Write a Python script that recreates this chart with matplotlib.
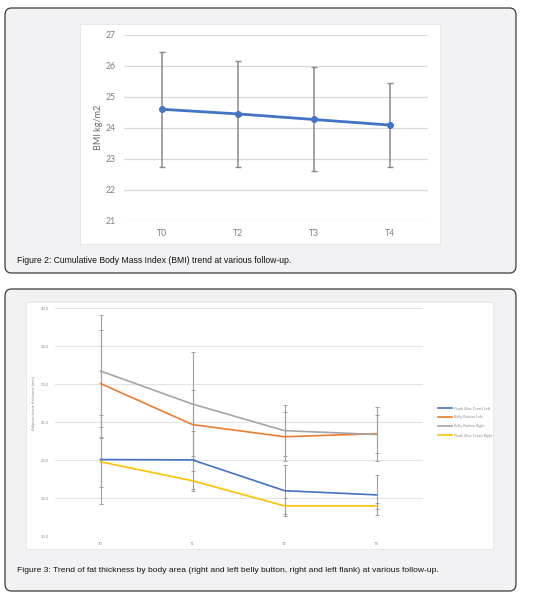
import matplotlib
matplotlib.use("Agg")
import matplotlib.pyplot as plt
from matplotlib.patches import FancyBboxPatch, Rectangle
from matplotlib.ticker import FuncFormatter, MultipleLocator

# ---------------- data ----------------
bmi_labels = ["T0", "T2", "T3", "T4"]
bmi_mean = [24.60, 24.45, 24.27, 24.09]
bmi_sd = [1.86, 1.70, 1.68, 1.37]

fat_labels = ["T0", "T1", "T2", "T4"]
series_names = ["Flank (Iliac Crest) Left", "Belly Button Left",
                "Belly Button Right", "Flank (Iliac Crest) Right"]
flank_left = [20.1, 20.05, 16.0, 15.45]
flank_left_sd = [5.8, 3.8, 3.35, 2.6]
belly_left = [30.1, 24.7, 23.1, 23.5]
belly_left_sd = [7.1, 4.5, 3.2, 2.5]
belly_right = [31.75, 27.4, 23.9, 23.4]
belly_right_sd = [7.4, 6.8, 3.35, 3.55]
flank_right = [19.8, 17.3, 14.0, 14.0]
flank_right_sd = [3.3, 1.35, 1.05, 0.35]

caption2 = "Figure 2: Cumulative Body Mass Index (BMI) trend at various follow-up."
caption3 = ("Figure 3: Trend of fat thickness by body area (right and left belly button, "
            "right and left flank) at various follow-up.")

W, H = 533, 596
fig = plt.figure(figsize=(W / 100, H / 100), dpi=100)
fig.patch.set_facecolor("white")

def fx(px):
    return px / W

def fy(py):
    return 1 - py / H

def panel(x0, y0, x1, y1):
    p = FancyBboxPatch((fx(x0), fy(y1)), fx(x1) - fx(x0), fy(y0) - fy(y1),
                       boxstyle="round,pad=0,rounding_size=0.012",
                       transform=fig.transFigure, facecolor="#f2f2f4",
                       edgecolor="#3a3a3a", linewidth=0.9, zorder=-2)
    fig.patches.append(p)

def white_area(x0, y0, x1, y1):
    r = Rectangle((fx(x0), fy(y1)), fx(x1) - fx(x0), fy(y0) - fy(y1),
                  transform=fig.transFigure, facecolor="white",
                  edgecolor="#e6e6e6", linewidth=0.6, zorder=-1)
    fig.patches.append(r)

panel(5, 8, 516, 273)
panel(5, 289, 516, 591)
white_area(80, 24, 440, 244)
white_area(26, 302, 493, 549)

chart_font = ["Lato", "DejaVu Sans"]
cap_font = ["Liberation Sans", "DejaVu Sans"]

# ---------------- Figure 2 ----------------
ax1 = fig.add_axes([fx(124), fy(220.7), fx(428) - fx(124), fy(35) - fy(220.7)])
ax1.set_zorder(2)
ax1.set_facecolor("none")
x1 = list(range(len(bmi_labels)))
ax1.errorbar(x1, bmi_mean, yerr=bmi_sd, fmt="none", ecolor="#8a8a8a",
             elinewidth=1.1, capsize=2.2, capthick=1.0, zorder=2)
ax1.plot(x1, bmi_mean, color="#4472C4", linewidth=2.0, marker="o",
         markersize=4, zorder=3)
ax1.set_xlim(-0.5, len(bmi_labels) - 0.5)
ax1.set_ylim(21, 27)
ax1.yaxis.set_major_locator(MultipleLocator(1))
ax1.set_xticks(x1)
ax1.set_xticklabels(bmi_labels)
ax1.grid(axis="y", color="#d9d9d9", linewidth=0.9)
ax1.set_axisbelow(True)
for s in ax1.spines.values():
    s.set_visible(False)
ax1.tick_params(length=0, labelsize=6.3, labelcolor="#808080", pad=6)
ax1.tick_params(axis="x", pad=6)
for lab in ax1.get_xticklabels() + ax1.get_yticklabels():
    lab.set_family(chart_font)
ax1.set_ylabel("BMI kg/m2", fontsize=6.5, color="#666666", family=chart_font)
ax1.yaxis.set_label_coords((103 - 124) / 304, 0.5)

fig.text(fx(17), fy(261), caption2, fontsize=6.2, family=cap_font,
         color="#111111", va="center", ha="left")

# ---------------- Figure 3 ----------------
ax2 = fig.add_axes([fx(54.5), fy(536.3), fx(422.5) - fx(54.5), fy(308.3) - fy(536.3)])
ax2.set_zorder(2)
ax2.set_facecolor("none")
x2 = list(range(len(fat_labels)))
colors = ["#4472C4", "#ED7D31", "#A5A5A5", "#FFC000"]
vals = [flank_left, belly_left, belly_right, flank_right]
sds = [flank_left_sd, belly_left_sd, belly_right_sd, flank_right_sd]
for v, sd in zip(vals, sds):
    ax2.errorbar(x2, v, yerr=sd, fmt="none", ecolor="#a0a0a0",
                 elinewidth=0.8, capsize=1.6, capthick=0.7, zorder=2)
for name, v, c in zip(series_names, vals, colors):
    ax2.plot(x2, v, color=c, linewidth=1.2, label=name, zorder=3)
ax2.set_xlim(-0.5, len(fat_labels) - 0.5)
ax2.set_ylim(10, 40)
ax2.yaxis.set_major_locator(MultipleLocator(5))
ax2.yaxis.set_major_formatter(FuncFormatter(lambda v, p: f"{v:.1f}".replace(".", ",")))
ax2.set_xticks(x2)
ax2.set_xticklabels(fat_labels)
ax2.grid(axis="y", color="#e3e3e3", linewidth=0.8)
ax2.set_axisbelow(True)
for s in ax2.spines.values():
    s.set_visible(False)
ax2.tick_params(length=0, labelsize=3, labelcolor="#8c8c8c", pad=4)
for lab in ax2.get_xticklabels() + ax2.get_yticklabels():
    lab.set_family(chart_font)
ax2.set_ylabel("Adipose tissue thickness [mm]", fontsize=3, color="#8c8c8c",
               family=chart_font)
ax2.yaxis.set_label_coords((36 - 54.5) / 368, (536.3 - 402.5) / 228)

leg = ax2.legend(loc="upper left", bbox_to_anchor=((438 - 54.5) / 368, (536.3 - 406) / 228),
                 frameon=False, prop={"family": chart_font, "size": 2.8},
                 handlelength=3.6, handletextpad=0.4, labelspacing=1.35,
                 borderaxespad=0, borderpad=0)
for t in leg.get_texts():
    t.set_color("#8c8c8c")
for l in leg.get_lines():
    l.set_linewidth(1.2)

fig.text(fx(17), fy(571), caption3, fontsize=6.1, family=cap_font,
         color="#111111", va="center", ha="left")

fig.savefig("out.png", dpi=100, facecolor="white")
